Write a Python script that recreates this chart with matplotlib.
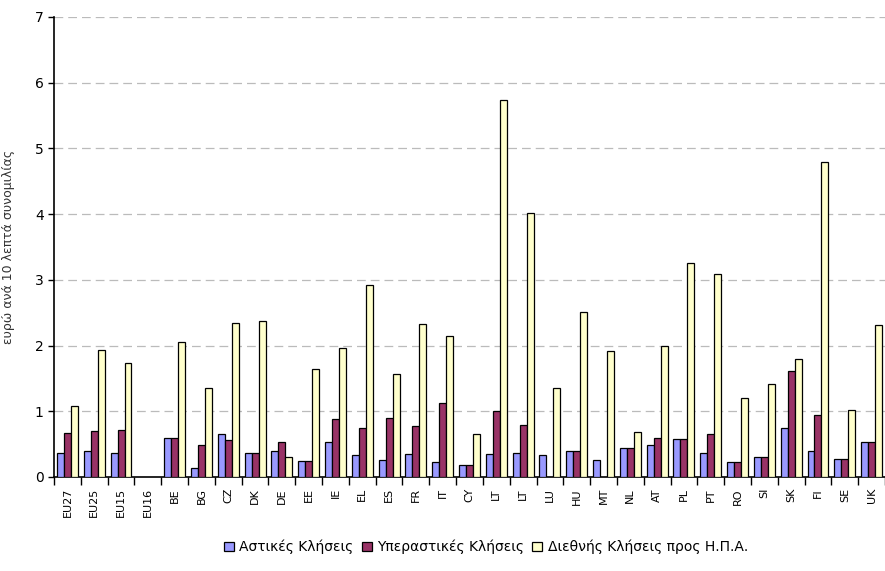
import matplotlib.pyplot as plt
import numpy as np

# χώρες / ομάδες χωρών
countries = ['EU27', 'EU25', 'EU15', 'EU16', 'BE', 'BG', 'CZ', 'DK', 'DE', 'EE',
             'IE', 'EL', 'ES', 'FR', 'IT', 'CY', 'LT', 'LT', 'LU', 'HU', 'MT',
             'NL', 'AT', 'PL', 'PT', 'RO', 'SI', 'SK', 'FI', 'SE', 'UK']

local_calls = [0.37, 0.39, 0.37, 0, 0.60, 0.14, 0.65, 0.37, 0.39, 0.25,
               0.53, 0.33, 0.26, 0.35, 0.23, 0.18, 0.35, 0.37, 0.33, 0.39, 0.26,
               0.44, 0.49, 0.58, 0.37, 0.23, 0.30, 0.74, 0.39, 0.28, 0.53]
long_calls = [0.67, 0.70, 0.72, 0, 0.60, 0.49, 0.56, 0.37, 0.53, 0.25,
              0.88, 0.74, 0.90, 0.77, 1.13, 0.18, 1.00, 0.79, 0, 0.39, 0,
              0.44, 0.60, 0.58, 0.65, 0.23, 0.30, 1.62, 0.94, 0.28, 0.53]
usa_calls = [1.08, 1.94, 1.73, 0, 2.05, 1.36, 2.35, 2.37, 0.30, 1.64,
             1.96, 2.92, 1.57, 2.33, 2.14, 0.65, 5.73, 4.01, 1.36, 2.51, 1.91,
             0.69, 1.99, 3.25, 3.09, 1.20, 1.41, 1.80, 4.79, 1.02, 2.31]

labels = ['Αστικές Κλήσεις', 'Υπεραστικές Κλήσεις', 'Διεθνής Κλήσεις προς Η.Π.Α.']
colors = ['#9999FF', '#993366', '#FFFFCC']

fig = plt.figure(figsize=(8.85, 5.71), dpi=100)
ax = fig.add_axes([54/885, 1-477/571, 831/885, 460/571])

x = np.arange(len(countries))
w = 0.26
series = [local_calls, long_calls, usa_calls]
for k in range(3):
    vals = np.array(series[k])
    keep = vals > 0  # no data -> no bar
    ax.bar(x[keep] + (k-1)*w, vals[keep], width=w, color=colors[k], edgecolor='black',
           linewidth=0.9, label=labels[k], zorder=3)

ax.set_xlim(-0.5, len(countries)-0.5)
ax.set_ylim(0, 7)
ax.set_yticks(range(0, 8))
ax.yaxis.grid(True, linestyle=(0, (7, 4)), color='#bbbbbb', linewidth=0.9, zorder=0)
ax.tick_params(axis='y', labelsize=10, length=4, width=1, direction='out')

# ticks at the boundaries, labels in the middle
ax.set_xticks(np.arange(-0.5, len(countries), 1))
ax.set_xticklabels([])
ax.tick_params(axis='x', which='major', length=6, width=1, direction='out')
ax.set_xticks(x, minor=True)
ax.set_xticklabels(countries, minor=True, rotation=90, fontsize=8)
ax.tick_params(axis='x', which='minor', length=0, pad=8)

for s in ['top', 'right']:
    ax.spines[s].set_visible(False)
ax.spines['left'].set_linewidth(1.2)
ax.spines['bottom'].set_linewidth(1.2)

ax.set_ylabel('ευρώ ανά 10 λεπτά συνομιλίας', fontsize=9, color='#333333', labelpad=14)

fig.legend(loc='center', bbox_to_anchor=(486/885, 1-547/571), ncol=3, frameon=False,
           fontsize=10, handlelength=0.7, handleheight=0.7, handletextpad=0.4,
           columnspacing=0.6)

fig.savefig('out.png', dpi=100)
